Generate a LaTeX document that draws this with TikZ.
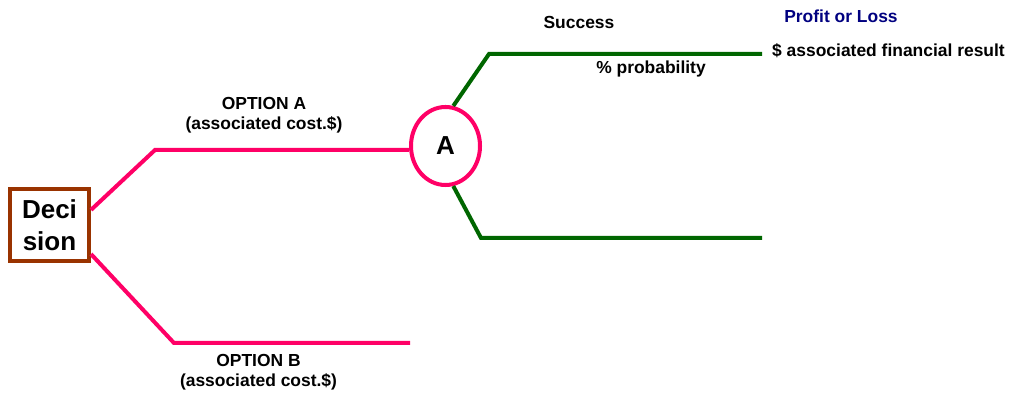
\documentclass[tikz,border=0pt]{standalone}
\usepackage{fontspec}
\setmainfont{Liberation Sans}
\usetikzlibrary{shapes.geometric}
\definecolor{optpink}{RGB}{255,0,102}
\definecolor{resgreen}{RGB}{0,102,0}
\definecolor{boxbrown}{RGB}{153,51,0}
\definecolor{headnavy}{RGB}{0,0,128}
\tikzset{
  lbl/.style={font=\bfseries\fontsize{12.4}{14.2}\selectfont, align=center},
  big/.style={font=\bfseries\fontsize{18.5}{23}\selectfont, align=center},
  optline/.style={draw=optpink, line width=0.1cm},
  resline/.style={draw=resgreen, line width=0.1cm}
}

\begin{document}
\begin{tikzpicture}[x=0.025cm, y=-0.025cm]

            \useasboundingbox (0,0) rectangle (1015,399);

            % Decision box and chance node
            \node[big, draw=boxbrown, line width=0.1cm, minimum width=1.975cm, minimum height=1.8cm, inner sep=0pt] (dec) at (49.5,225) {Deci\\sion};
            \node[big, ellipse, draw=optpink, line width=0.1cm, minimum width=1.725cm, minimum height=1.95cm, inner sep=0pt] (chA) at (445.5,146) {A};

            % Bends and ends of the branches
            \coordinate (aBend) at (155,150);
            \coordinate (bBend) at (174,343);
            \coordinate (bEnd) at (410,343);
            \coordinate (sBend) at (489,54);
            \coordinate (sEnd) at (762,54);
            \coordinate (fBend) at (481,238);
            \coordinate (fEnd) at (762,238);

            % Option branches
            \draw[optline] (dec.20) -- (aBend) -- (aBend -| chA.west);
            \draw[optline] (dec.-35) -- (bBend) -- (bEnd);

            % Outcome branches
            \draw[resline] (chA.79) -- (sBend) -- (sEnd);
            \draw[resline] (chA.-79) -- (fBend) -- (fEnd);

            % Labels
            \node[lbl] (optA) at (264,115) {OPTION A\\(associated cost.\$)};
            \node[lbl] (optB) at (258.5,372) {OPTION B\\(associated cost.\$)};
            \node[lbl, anchor=base] (succ) at (579,28.3) {Success};
            \node[lbl, anchor=base] (prob) at (651,74) {\% probability};
            \node[lbl, anchor=base, text=headnavy] (pol) at (841,22.7) {Profit or Loss};
            \node[lbl, anchor=base] (fin) at (888.5,56.7) {\$ associated financial result};

        \end{tikzpicture}
\end{document}
